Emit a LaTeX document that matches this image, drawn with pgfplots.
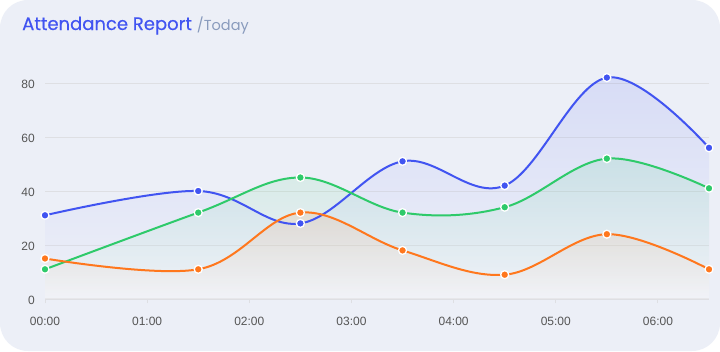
\documentclass[border=0pt]{standalone}
\usepackage{pgfplots}
\pgfplotsset{compat=1.18}
\usepackage{fontspec}
\setmainfont{Liberation Sans}
\newfontfamily\poppins[FakeBold=0.4]{Poppins}
\newfontfamily\poppinsreg{Poppins}
\definecolor{cblue}{HTML}{4154F1}
\definecolor{cgreen}{HTML}{2ECA6A}
\definecolor{corange}{HTML}{FF771D}
\definecolor{cardbg}{HTML}{ECEFF7}
\definecolor{subg}{HTML}{899BBD}
\definecolor{gridc}{HTML}{DEDFE3}
\definecolor{tickc}{HTML}{555555}
\begin{document}
\begin{tikzpicture}[x=1bp,y=1bp]
\fill[white] (0,0) rectangle (720,351);
\fill[cardbg, rounded corners=28bp] (0,0) rectangle (720,351);
\node[anchor=base west, inner sep=0, text=cblue, font=\poppins\fontsize{18bp}{22bp}\selectfont] at (22,321) {Attendance Report\hspace{5bp}{\poppinsreg\color{subg}\fontsize{14.5bp}{17bp}\selectfont/Today}};
\begin{axis}[
  at={(45bp,52bp)}, anchor=south west,
  scale only axis, width=664bp, height=229.5bp,
  xmin=0, xmax=6.5, ymin=0, ymax=85,
  clip=false,
  axis x line*=bottom, axis y line*=left,
  x axis line style={draw=gridc, line width=1.2bp, -},
  y axis line style={draw=none},
  ytick={0,20,40,60,80},
  xtick={0,1,2,3,4,5,6},
  xticklabels={00:00,01:00,02:00,03:00,04:00,05:00,06:00},
  ymajorgrids, grid style={draw=gridc, line width=0.8bp},
  xtick align=outside, major tick length=4bp,
  xtick style={draw=gridc, line width=1bp},
  ytick style={draw=none},
  /pgf/number format/assume math mode=true,
  tick label style={font=\fontsize{12bp}{14bp}\selectfont, text=tickc},
  yticklabel style={inner sep=0pt, anchor=east, xshift=-10bp, yshift=-1bp},
  xticklabel style={inner sep=0pt, anchor=north, yshift=-14bp},
]
\addplot[draw=none, smooth, tension=0.6, top color=cblue, bottom color=white, fill opacity=0.12] coordinates {(0,31) (1.5,40) (2.5,28) (3.5,51) (4.5,42) (5.5,82) (6.5,56)} \closedcycle;
\addplot[draw=none, smooth, tension=0.6, top color=cgreen, bottom color=white, fill opacity=0.12] coordinates {(0,11) (1.5,32) (2.5,45) (3.5,32) (4.5,34) (5.5,52) (6.5,41)} \closedcycle;
\addplot[draw=none, smooth, tension=0.6, top color=corange, bottom color=white, fill opacity=0.12] coordinates {(0,15) (1.5,11) (2.5,32) (3.5,18) (4.5,9) (5.5,24) (6.5,11)} \closedcycle;
\addplot[cblue, line width=2bp, smooth, tension=0.6, mark=*, mark size=4bp, mark options={fill=cblue, draw=white, line width=1.3bp}] coordinates {(0,31) (1.5,40) (2.5,28) (3.5,51) (4.5,42) (5.5,82) (6.5,56)};
\addplot[cgreen, line width=2bp, smooth, tension=0.6, mark=*, mark size=4bp, mark options={fill=cgreen, draw=white, line width=1.3bp}] coordinates {(0,11) (1.5,32) (2.5,45) (3.5,32) (4.5,34) (5.5,52) (6.5,41)};
\addplot[corange, line width=2bp, smooth, tension=0.6, mark=*, mark size=4bp, mark options={fill=corange, draw=white, line width=1.3bp}] coordinates {(0,15) (1.5,11) (2.5,32) (3.5,18) (4.5,9) (5.5,24) (6.5,11)};
\end{axis}
\end{tikzpicture}
\end{document}
